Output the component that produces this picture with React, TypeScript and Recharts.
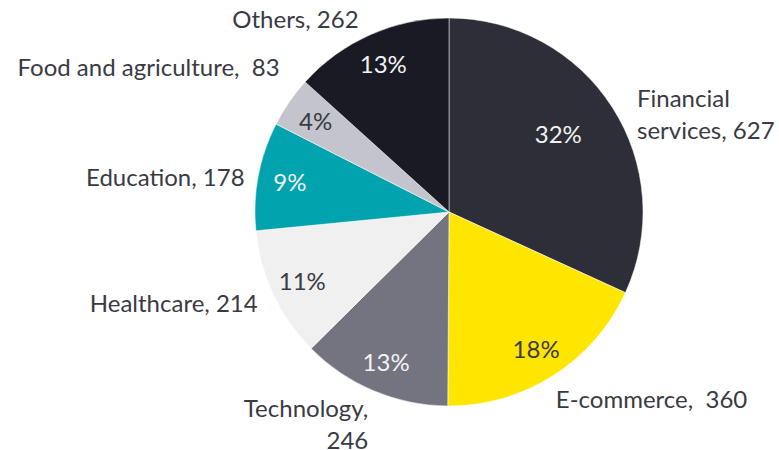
import { Pie, PieChart, Cell } from "recharts";

const sectors = [
  "Financial services",
  "E-commerce",
  "Technology",
  "Healthcare",
  "Education",
  "Food and agriculture",
  "Others",
];
const counts = [627, 360, 246, 214, 178, 83, 262];
// percentage labels as printed on the slices
const shares = [32, 18, 13, 11, 9, 4, 13];

// label text as shown on the chart (line breaks kept)
const outerLines = [
  ["Financial", "services, 627"],
  ["E-commerce,  360"],
  ["Technology,", "246"],
  ["Healthcare, 214"],
  ["Education, 178"],
  ["Food and agriculture,  83"],
  ["Others, 262"],
];

const COLORS = ["#2e2e38", "#ffe600", "#747480", "#f0f0f0", "#00a3ae", "#c4c4cd", "#1a1a24"];
const PCT_COLORS = ["#f2f2f2", "#3a3a44", "#f2f2f2", "#3a3a44", "#f2f2f2", "#3a3a44", "#f2f2f2"];

// small nudges so labels sit where the original placed them
const OUTER_NUDGE = [
  [13, 13],
  [-5, 11],
  [0, 19],
  [-3, 2],
  [0, 3],
  [2, -28],
  [-6, -4],
];
const INNER_NUDGE = [
  [-27, 9],
  [0, 0],
  [0, 0],
  [0, 0],
  [0, 0],
  [0, 0],
  [0, 0],
];

const data = sectors.map((name, i) => ({ name, value: counts[i] }));

const RAD = Math.PI / 180;
const FONT = "Lato, 'Open Sans', sans-serif";
const TEXT = "#3a3a44";

function renderLabel(props: any) {
  const { cx, cy, midAngle, outerRadius, index } = props;
  const cos = Math.cos(-midAngle * RAD);
  const sin = Math.sin(-midAngle * RAD);

  const ir = 162;
  const ix = cx + ir * cos + INNER_NUDGE[index][0];
  const iy = cy + ir * sin + INNER_NUDGE[index][1];

  const or = outerRadius + 14;
  const ox = cx + or * cos + OUTER_NUDGE[index][0];
  const oy = cy + or * sin + OUTER_NUDGE[index][1];
  const anchor = cos >= 0 ? "start" : "end";
  const lines = outerLines[index];
  const lh = 32;
  const top = oy - ((lines.length - 1) * lh) / 2;

  return (
    <g key={`lbl-${index}`}>
      <text
        x={ix}
        y={iy}
        textAnchor="middle"
        dominantBaseline="central"
        fill={PCT_COLORS[index]}
        fontSize={24}
        fontFamily={FONT}
      >
        {`${shares[index]}%`}
      </text>
      <text
        x={ox}
        y={top}
        textAnchor={anchor}
        dominantBaseline="central"
        fill={TEXT}
        fontSize={24}
        fontFamily={FONT}
        style={{ whiteSpace: "pre" }}
      >
        {lines.map((l, k) => (
          <tspan key={k} x={ox} y={top + k * lh}>
            {l}
          </tspan>
        ))}
      </text>
    </g>
  );
}

export default function App() {
  return (
    <div style={{ position: "absolute", left: 0, top: 0, background: "#fff" }}>
      <PieChart width={779} height={450} margin={{ top: 0, right: 0, bottom: 0, left: 0 }}>
        <Pie
          data={data}
          dataKey="value"
          nameKey="name"
          cx={449}
          cy={212}
          outerRadius={194}
          startAngle={90}
          endAngle={-270}
          stroke="#ffffff"
          strokeWidth={0.5}
          label={renderLabel}
          labelLine={false}
          isAnimationActive={false}
        >
          {data.map((_, i) => (
            <Cell key={i} fill={COLORS[i]} />
          ))}
        </Pie>
      </PieChart>
    </div>
  );
}
